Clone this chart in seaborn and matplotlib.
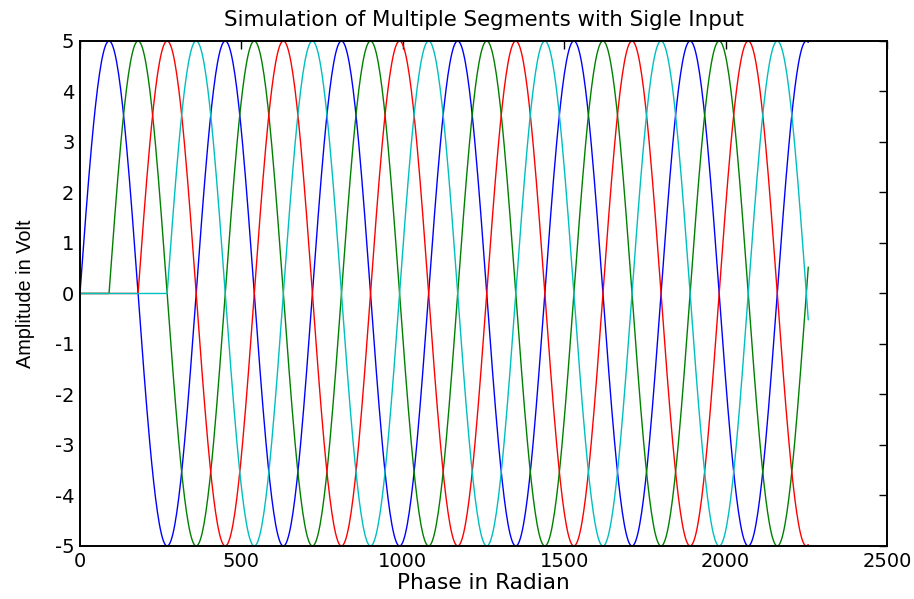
import numpy as np
import pandas as pd
import matplotlib
matplotlib.use("Agg")
import matplotlib.pyplot as plt
import seaborn as sns

# values
amplitude = 5.0            # volt, peak of every segment
period = 360.0             # one full cycle on the x axis
segment_names = ["seg1", "seg2", "seg3", "seg4"]
segment_starts = [0, 90, 180, 270]   # phase where each segment switches on
phase_end = 2257           # last sample on the x axis
phase_step = 3
segment_colors = ["#0000ff", "#008000", "#ff0000", "#00bfbf"]

x_ticks = [0, 500, 1000, 1500, 2000, 2500]
y_ticks = [-5, -4, -3, -2, -1, 0, 1, 2, 3, 4, 5]

# build long table: each segment is zero until it starts, then a sine
phase = np.arange(0, phase_end + 1, phase_step)
rows = []
for name, start in zip(segment_names, segment_starts):
    val = np.where(phase >= start,
                   amplitude * np.sin(2 * np.pi * (phase - start) / period), 0.0)
    rows.append(pd.DataFrame({"phase": phase, "amp": val, "segment": name}))
df = pd.concat(rows, ignore_index=True)

sns.set_theme(style="white")
plt.rcParams["font.family"] = ["DejaVu Sans"]
plt.rcParams["axes.unicode_minus"] = False
plt.rcParams["text.color"] = "black"
plt.rcParams["axes.labelcolor"] = "black"

fig = plt.figure(figsize=(9.14, 5.99), dpi=100)
ax = fig.add_axes([0.0875, 0.0885, 0.8830, 0.8431])

sns.lineplot(data=df, x="phase", y="amp", hue="segment", palette=segment_colors,
             linewidth=1.0, legend=False, ax=ax, sort=False, estimator=None)

ax.set_xlim(0, 2500)
ax.set_ylim(-5, 5)
ax.set_xticks(x_ticks)
ax.set_yticks(y_ticks)
ax.tick_params(direction="in", length=6, width=1, top=True, right=True,
               labelsize=14, colors="black", pad=4)
for side in ax.spines.values():
    side.set_visible(True)
    side.set_color("black")
    side.set_linewidth(1.4)

ax.set_title("Simulation of Multiple Segments with Sigle Input", fontsize=15.4,
             pad=11, color="black")
ax.set_xlabel("Phase in Radian", fontsize=15.6, labelpad=2, color="black")
ax.set_ylabel("Amplitude in Volt", fontsize=14.3, labelpad=14, color="black",
              family=["Liberation Sans", "DejaVu Sans"])

fig.savefig("out.png", dpi=100)
